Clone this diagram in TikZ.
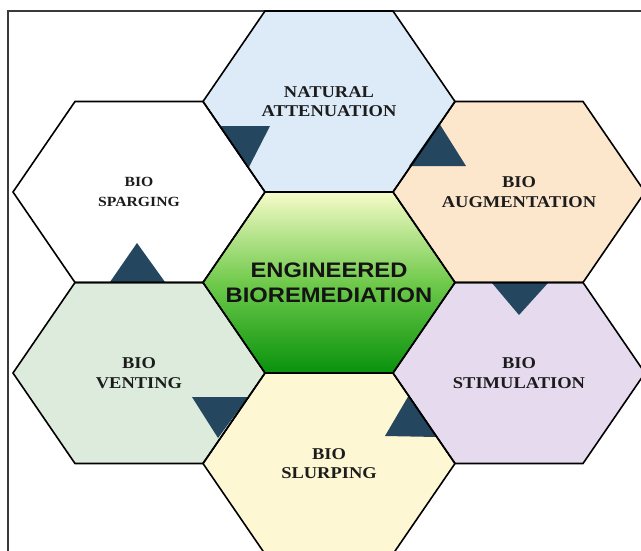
\documentclass[tikz,border=0pt]{standalone}
\usepackage{fontspec}
\setmainfont{Liberation Serif}[FakeStretch=1.12]
\newfontfamily\headfont{Liberation Sans}[FakeStretch=1.13]
\definecolor{natblue}{HTML}{DDEBF8}
\definecolor{augpeach}{HTML}{FCE6CC}
\definecolor{stimlilac}{HTML}{E5DAEE}
\definecolor{slurpyellow}{HTML}{FEF7D3}
\definecolor{ventgreen}{HTML}{DCEBDB}
\definecolor{markerblue}{HTML}{24465F}
\definecolor{labeltext}{HTML}{1C1C1C}
\definecolor{framegray}{HTML}{3A3A3A}
\begin{document}
\begin{tikzpicture}[x=1pt,y=-1pt,
  hex/.pic={\path[pic actions] (-126,0) -- (-64,-90.5) -- (64,-90.5) -- (126,0)
            -- (64,90.5) -- (-64,90.5) -- cycle;},
  hexline/.style={draw=black,line width=1.6pt,line join=miter},
  marker/.style={fill=markerblue},
  lbl/.style={align=center,inner sep=0pt,text=labeltext,
              font=\bfseries\fontsize{16.5}{19.5}\selectfont},
  smalllbl/.style={lbl,font=\bfseries\fontsize{14}{19.5}\selectfont},
  hublbl/.style={align=center,inner sep=0pt,text=black!92,
                 font=\headfont\bfseries\fontsize{21}{25}\selectfont}]
\useasboundingbox (0,0) rectangle (641,550);
\clip (0,0) rectangle (641,550);

% page frame
\draw[framegray,line width=1.1pt] (8,551) -- (8,11) -- (642,11);

% cell centres
\coordinate (cHub)  at (329,282.5);
\coordinate (cNat)  at (329,101.5);
\coordinate (cAug)  at (519,192);
\coordinate (cStim) at (519,373);
\coordinate (cSlur) at (329,463.5);
\coordinate (cVent) at (139,373);
\coordinate (cSparg) at (139,192);

% cell fills
\pic[fill=natblue]     at (cNat)   {hex};
\pic[fill=augpeach]    at (cAug)   {hex};
\pic[fill=stimlilac]   at (cStim)  {hex};
\pic[fill=slurpyellow] at (cSlur)  {hex};
\pic[fill=ventgreen]   at (cVent)  {hex};
\pic[fill=white]       at (cSparg) {hex};
\pic[top color={rgb,255:red,246;green,251;blue,200},
     bottom color={rgb,255:red,8;green,146;blue,12},
     middle color={rgb,255:red,112;green,202;blue,76}] at (cHub) {hex};

% direction markers between neighbouring cells
\fill[marker] (219,126) -- (270,126) -- (249,167) -- cycle;
\fill[marker] (439,123) -- (409,166) -- (466,166) -- cycle;
\fill[marker] (492,283) -- (548,283) -- (519,315) -- cycle;
\fill[marker] (409,395) -- (385,436) -- (437,437) -- cycle;
\fill[marker] (192,397) -- (248,397) -- (218,438) -- cycle;
\fill[marker] (110,282) -- (165,282) -- (137,243) -- cycle;

% cell outlines
\foreach \c in {cNat,cAug,cStim,cSlur,cVent,cSparg,cHub}
  \pic[hexline] at (\c) {hex};

% labels
\node[hublbl]   (hub)   at (cHub)   {ENGINEERED\\BIOREMEDIATION};
\node[lbl]      (nat)   at (cNat)   {NATURAL\\ATTENUATION};
\node[lbl]      (aug)   at (cAug)   {BIO\\AUGMENTATION};
\node[lbl]      (stim)  at (cStim)  {BIO\\STIMULATION};
\node[lbl]      (slur)  at (cSlur)  {BIO\\SLURPING};
\node[lbl]      (vent)  at (cVent)  {BIO\\VENTING};
\node[smalllbl] (sparg) at (cSparg) {BIO\\SPARGING};
\end{tikzpicture}
\end{document}
